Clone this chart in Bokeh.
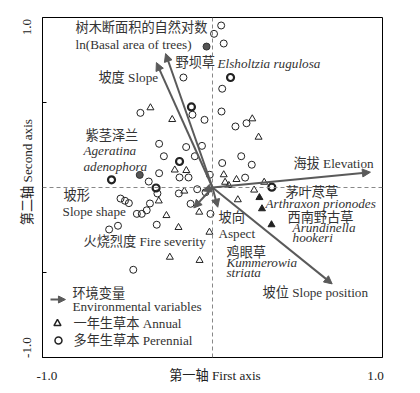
from bokeh.plotting import figure
from bokeh.models import (ColumnDataSource, Span, Arrow, NormalHead, FixedTicker)
from bokeh.core.properties import value
from bokeh.embed import file_html
from bokeh.resources import INLINE

FONT = "Liberation Serif, Noto Sans CJK SC"
FS = "13.2px"

# ---- species scores (first axis, second axis) ----
perennial_x = [0.051, 0.009, 0.066, -0.171, 0.057, -0.424, -0.118, -0.047, 0.053, 0.135, 0.200,
               -0.314, -0.286, -0.155, -0.062, -0.104, 0.169, 0.057, 0.231, -0.314, -0.194, -0.141,
               -0.375, -0.016, 0.192, -0.198, -0.090, -0.041, -0.324, -0.541, -0.515, -0.492,
               -0.368, -0.445, -0.416, -0.387, -0.328, -0.608, -0.556, -0.466, -0.129, -0.012]
perennial_y = [0.953, 0.904, 0.847, 0.647, 0.581, 0.439, 0.428, 0.398, 0.447, 0.359, 0.378,
               0.257, 0.184, 0.238, 0.245, 0.184, 0.184, 0.144, 0.134, 0.084, 0.059, 0.059,
               0.035, 0.075, 0.058, -0.035, -0.010, -0.028, -0.035, -0.065, -0.078, -0.092,
               -0.094, -0.155, -0.155, -0.134, -0.219, -0.247, -0.225, -0.484, -0.096, -0.155]
perennial_bold_x = [0.106, -0.124, -0.194, -0.594, -0.332, 0.349]
perennial_bold_y = [0.647, 0.474, 0.153, 0.045, -0.003, 0.002]
perennial_filled_x = [-0.035, -0.428]
perennial_filled_y = [0.829, 0.074]

annual_x = [-0.365, -0.237, 0.234, 0.271, -0.222, -0.154, 0.066, 0.074, 0.096, 0.141, 0.304,
            -0.166, 0.245, 0.149, -0.316, -0.271, -0.078, -0.200, -0.018, -0.251, -0.076]
annual_y = [0.469, 0.400, 0.404, 0.296, 0.103, 0.100, 0.075, 0.031, 0.012, 0.047, 0.031,
            -0.021, -0.015, -0.072, -0.079, -0.165, -0.145, -0.235, -0.263, -0.410, -0.429]
annual_filled_x = [0.276, 0.291, 0.347]
annual_filled_y = [-0.059, -0.125, -0.219]

# ---- environmental variables (arrow tips) ----
env_names = ["ln(Basal area of trees)", "Slope", "Elevation", "Slope position",
             "Aspect", "Fire severity", "Slope shape"]
env_x = [-0.276, -0.330, 0.929, 0.704, 0.031, -0.110, -0.055]
env_y = [0.788, 0.735, 0.090, -0.567, -0.116, -0.120, -0.020]

# ---- annotation texts ----
label_text = ["树木断面积的自然对数", "ln(Basal area of trees)", "野坝草", "Elsholtzia rugulosa",
              "坡度 Slope", "紫茎泽兰", "Ageratina", "adenophora", "坡形", "Slope shape",
              "火烧烈度 Fire severity", "海拔 Elevation", "茅叶荩草", "Arthraxon prionodes",
              "西南野古草", "Arundinella", "hookeri", "坡向", "Aspect", "鸡眼草", "Kummerowia",
              "striata", "坡位 Slope position"]
label_x = [-0.806, -0.806, -0.218, 0.029, -0.671, -0.747, -0.759, -0.759, -0.876, -0.882,
           -0.759, 0.476, 0.429, 0.312, 0.441, 0.471, 0.471, 0.035, 0.035, 0.082, 0.082,
           0.082, 0.294]
label_y = [0.941, 0.841, 0.735, 0.729, 0.647, 0.306, 0.218, 0.124, -0.047, -0.141,
           -0.318, 0.141, -0.029, -0.094, -0.176, -0.235, -0.294, -0.176, -0.271, -0.382,
           -0.441, -0.500, -0.618]
label_style = ["normal", "normal", "normal", "italic", "normal", "normal", "italic", "italic",
               "normal", "normal", "normal", "normal", "normal", "italic", "normal", "italic",
               "italic", "normal", "normal", "normal", "italic", "italic", "normal"]

legend_text = ["环境变量", "Environmental variables", "一年生草本  Annual", "多年生草本  Perennial"]
legend_x = [-0.824, -0.824, -0.818, -0.818]
legend_y = [-0.624, -0.700, -0.800, -0.900]

x_tick_pos = [-0.974, 0.024, 0.959]
x_tick_lab = ["-1.0", "第一轴  First axis", "1.0"]
y_tick_pos = [-0.941, 0.10, 0.944]
y_tick_lab = ["-1.0", "第二轴  Second axis", "1.0"]

TXT = "#333333"
ARR = "#5a5a5a"

p = figure(width=410, height=390, x_range=(-1, 1), y_range=(-1, 1),
           frame_width=340, frame_height=340,
           min_border_left=42, min_border_top=17, min_border_right=28, min_border_bottom=33,
           output_backend="svg", toolbar_location=None)
p.xgrid.visible = False
p.ygrid.visible = False
p.outline_line_color = "black"
p.outline_line_width = 1
p.background_fill_color = "white"
p.border_fill_color = "white"

# axes
p.xaxis.ticker = FixedTicker(ticks=x_tick_pos)
p.xaxis.major_label_overrides = {k: v for k, v in zip(x_tick_pos, x_tick_lab)}
p.yaxis.ticker = FixedTicker(ticks=y_tick_pos, minor_ticks=[-0.5, 0.5])
p.yaxis.major_label_overrides = {k: v for k, v in zip(y_tick_pos, y_tick_lab)}
for ax in (p.xaxis, p.yaxis):
    ax.major_tick_line_color = None
    ax.major_label_text_font = FONT
    ax.major_label_text_font_size = FS
    ax.major_label_text_color = "#222222"
    ax.axis_line_color = "black"
    ax.major_label_standoff = 4
p.xaxis.minor_tick_line_color = None
p.yaxis.minor_tick_in = 4
p.yaxis.minor_tick_out = 0
p.yaxis.minor_tick_line_color = "black"
p.yaxis.major_label_orientation = "vertical"
p.yaxis.major_label_standoff = 2

# zero lines
p.add_layout(Span(location=0, dimension="width", line_color="#888888", line_dash="4 3", line_width=1))
p.add_layout(Span(location=0, dimension="height", line_color="#888888", line_dash="4 3", line_width=1))

# species points
p.scatter(perennial_x, perennial_y, marker="circle", size=7, fill_color=None,
          line_color="#222222", line_width=1)
p.scatter(perennial_bold_x, perennial_bold_y, marker="circle", size=7, fill_color=None,
          line_color="#222222", line_width=2.2)
p.scatter(perennial_filled_x, perennial_filled_y, marker="circle", size=7, fill_color="#555555",
          line_color="#333333", line_width=1)
p.scatter(annual_x, annual_y, marker="triangle", size=7, fill_color=None,
          line_color="#222222", line_width=1)
p.scatter(annual_filled_x, annual_filled_y, marker="triangle", size=7, fill_color="#222222",
          line_color="#222222", line_width=1)

# arrows
for ex, ey in zip(env_x, env_y):
    p.add_layout(Arrow(end=NormalHead(size=8, fill_color=ARR, line_color=ARR),
                       x_start=0, y_start=0, x_end=ex, y_end=ey,
                       line_color=ARR, line_width=2))

# texts
src = ColumnDataSource(dict(x=label_x, y=label_y, t=label_text, s=label_style))
p.text(x="x", y="y", text="t", source=src, text_font=value(FONT), text_font_size=FS,
       text_font_style="s", text_color=TXT, text_baseline="middle", text_align="left")

# legend
p.add_layout(Arrow(end=NormalHead(size=7, fill_color=ARR, line_color=ARR),
                   x_start=-0.953, y_start=-0.659, x_end=-0.865, y_end=-0.659,
                   line_color=ARR, line_width=2))
p.scatter([-0.912], [-0.800], marker="triangle", size=7, fill_color=None,
          line_color="#222222", line_width=1.5)
p.scatter([-0.906], [-0.900], marker="circle", size=7, fill_color=None,
          line_color="#222222", line_width=1.5)
p.text(x=legend_x, y=legend_y, text=legend_text, text_font=value(FONT), text_font_size=FS,
       text_color=TXT, text_baseline="middle", text_align="left")

open("out.html", "w").write(file_html(p, INLINE))
